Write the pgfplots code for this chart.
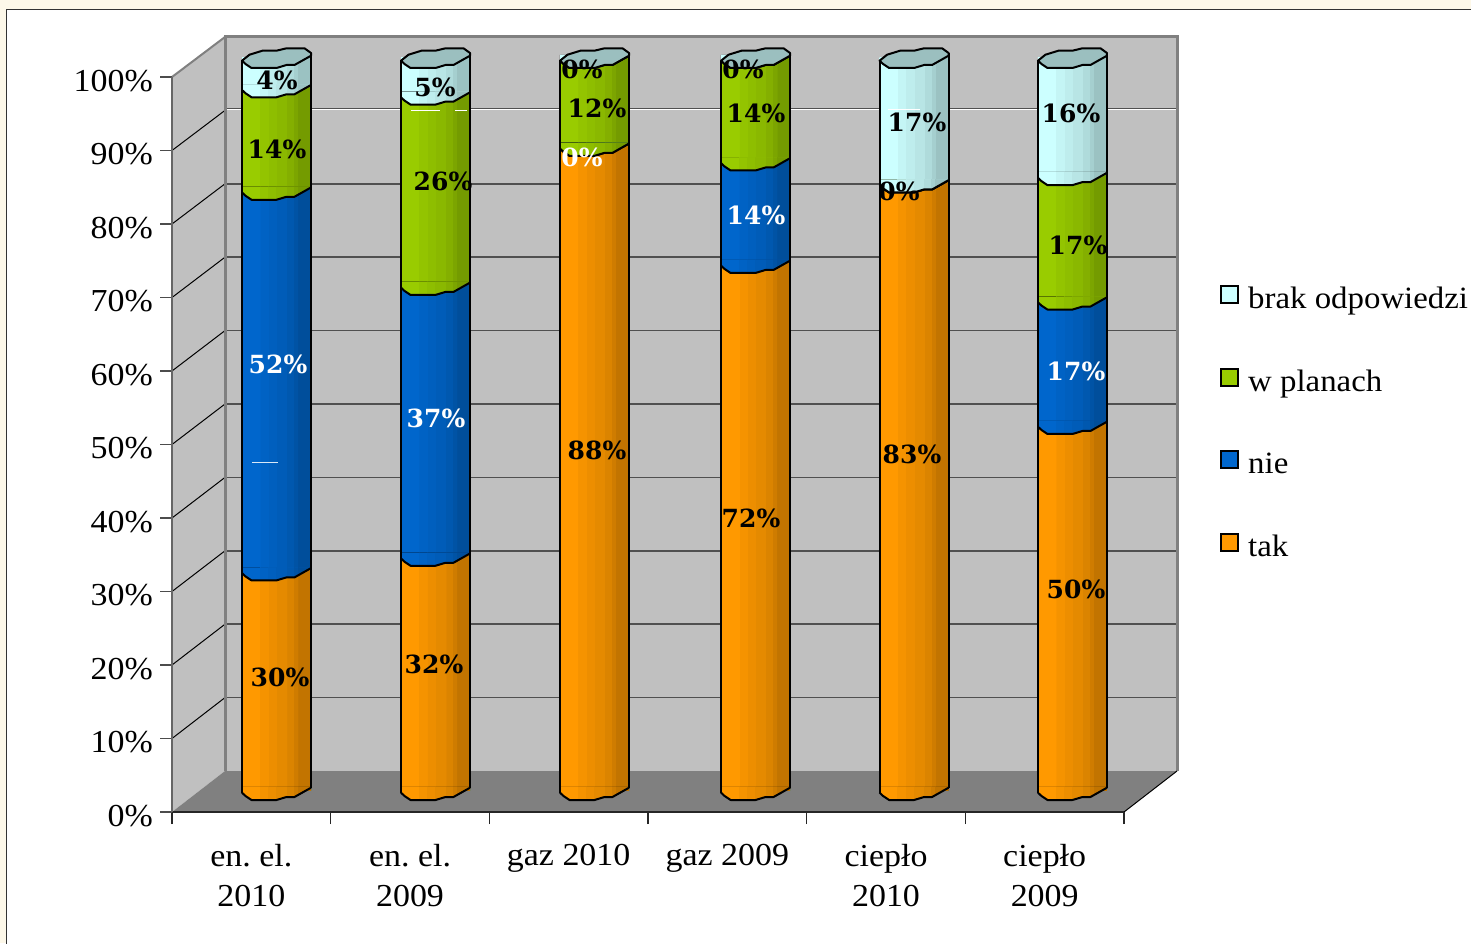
\documentclass[border=0pt]{standalone}
\usepackage{pgfplots}
\usepackage{pgfplotstable}
\usepackage{fontspec}
\pgfplotsset{compat=1.18}
\setmainfont{Liberation Serif}[FakeStretch=1.06]
\newfontfamily\labfont{DejaVu Serif}
\definecolor{cOrange}{HTML}{FF9900}
\definecolor{cBlue}{HTML}{0066CC}
\definecolor{cGreen}{HTML}{99CC00}
\definecolor{cCyan}{HTML}{CCFFFF}
\definecolor{cCap}{HTML}{9BBFBF}
\definecolor{cCream}{HTML}{FDF8E9}
\definecolor{cWall}{HTML}{C0C0C0}
\definecolor{cFloor}{HTML}{808080}
\definecolor{cGrid}{HTML}{505050}
\newcommand\bandshade[2]{%
  \pgfdeclarehorizontalshading{#1}{100bp}{%
    color(0bp)=(#2); color(38bp)=(#2);
    color(38.01bp)=(#2!96!black); color(44bp)=(#2!96!black);
    color(44.01bp)=(#2!93!black); color(50bp)=(#2!93!black);
    color(50.01bp)=(#2!90!black); color(57.5bp)=(#2!90!black);
    color(57.51bp)=(#2!86!black); color(62.5bp)=(#2!86!black);
    color(62.51bp)=(#2!81!black); color(65.5bp)=(#2!81!black);
    color(65.51bp)=(#2!76!black); color(100bp)=(#2!76!black)}}
\bandshade{bandO}{cOrange}
\bandshade{bandB}{cBlue}
\bandshade{bandG}{cGreen}
\bandshade{bandC}{cCyan}
\def\lowerarc{(-34.5pt,-2.7pt) -- (-31pt,-6pt) -- (-25pt,-10pt) -- (0pt,-10pt) -- (10pt,-7pt) -- (18pt,-7pt) -- (34.5pt,2.3pt)}
\newcommand\arcmark[2]{%
  \pgfdeclareplotmark{#1}{%
    \begin{scope}
    \clip (-34.5pt,3pt) -- \lowerarc -- (34.5pt,3pt) -- cycle;
    \fill[#2]          (-34.5pt,-15pt) rectangle (34.5pt,10pt);
    \fill[#2!96!black] (-16.56pt,-15pt) rectangle (34.5pt,10pt);
    \fill[#2!93!black] (-8.28pt,-15pt) rectangle (34.5pt,10pt);
    \fill[#2!90!black] (0pt,-15pt) rectangle (34.5pt,10pt);
    \fill[#2!86!black] (10.35pt,-15pt) rectangle (34.5pt,10pt);
    \fill[#2!81!black] (17.25pt,-15pt) rectangle (34.5pt,10pt);
    \fill[#2!76!black] (21.39pt,-15pt) rectangle (34.5pt,10pt);
    \end{scope}
    \draw[black,line width=2pt,line join=round] \lowerarc;}}
\arcmark{arcO}{cOrange}
\arcmark{arcB}{cBlue}
\arcmark{arcG}{cGreen}
\arcmark{arcC}{cCyan}
\pgfdeclareplotmark{capm}{%
  \draw[black,line width=2pt,fill=cCap,line join=round]
    (-34.5pt,-2.7pt) -- (-27pt,3.3pt) -- (-14pt,7.3pt) -- (0pt,7.3pt) -- (10pt,9.7pt) -- (28pt,9.7pt) -- (34.5pt,5pt) -- (34.5pt,2.3pt)
    -- (18pt,-7pt) -- (10pt,-7pt) -- (0pt,-10pt) -- (-25pt,-10pt) -- (-31pt,-6pt) -- cycle;
  \draw[black,line width=2pt] (-34.5pt,-2.7pt) -- (-34.5pt,-734.7pt);
  \draw[black,line width=2pt] (34.5pt,5pt) -- (34.5pt,-729.7pt);}
\pgfplotstableread{
x     tak nie plan brak
0     30  52  14   4
1     32  37  26   5
2     88  0   12   0
3.013 72  14  14   0
4.01  83  0   0    17
5.006 50  17  17   16
}\shares
\newcommand\barseries[2]{%
  \pgfplotsinvokeforeach{0,1,2,3,4,5}{%
    \addplot[ybar,bar width=69pt,bar shift=0pt,draw=none,shading=#1,forget plot,
      x filter/.code={\ifnum\coordindex=##1\relax\else\def\pgfmathresult{}\fi}]
      table[x=x,y expr={#2}]{\shares};
  }}
\newcommand\markseries[2]{%
  \addplot[only marks,mark=#1,forget plot] table[x=x,y expr={#2}]{\shares};}
\newcommand\swatch[1]{\addlegendimage{legend image code/.code={\draw[fill=#1,line width=2pt] (0pt,-1.5pt) rectangle (17pt,15.5pt);}}}
\newcommand\lab[4]{\node[text=#4,inner sep=0pt,font=\labfont\bfseries\fontsize{25}{25}\selectfont] at (#1,942-#2) {#3};}
\begin{document}
\frenchspacing
\begin{tikzpicture}[x=1pt,y=1pt]
\useasboundingbox (0,0) rectangle (1471,943);
\clip (0,0) rectangle (1471,943);
\fill[cCream] (0,0) rectangle (1471,943);
\fill[white,draw=black!80,line width=1.5pt] (6.5,-5) rectangle (1480,933.5);
% walls
\fill[cWall] (225,906) rectangle (1177,172);
\fill[cWall] (172,866) -- (225,906) -- (225,172) -- (172,131) -- cycle;
\fill[cFloor] (172,131) -- (1124,131) -- (1177,172) -- (225,172) -- cycle;
\foreach \k in {1,...,8} {
  \draw[cGrid,line width=1.5pt] (225,172+73.4*\k) -- (1177,172+73.4*\k);
}
\draw[cGrid,line width=1pt] (225,834) -- (1177,834);
\draw[white,line width=1pt] (225,833) -- (1177,833);
\foreach \k in {1,...,9} {
  \draw[black,line width=1pt] (172,131+73.5*\k) -- (225,172+73.4*\k);
}
\draw[cFloor,line width=3pt] (225,172) -- (225,906) -- (1177,906) -- (1177,172);
\draw[cFloor,line width=2pt] (172,866) -- (225,906);
\draw[black,line width=1pt] (1124,131) -- (1177,172);
\begin{axis}[
  at={(172pt,131pt)}, anchor=south west, scale only axis,
  width=952pt, height=735pt,
  xmin=-0.5, xmax=5.5, ymin=0, ymax=100,
  axis lines=left, axis line style={-},
  x axis line style={black!85,line width=1.5pt},
  y axis line style={black!60,line width=2pt},
  tick align=outside, major tick length=12pt, minor tick length=12pt,
  xtick={0,...,5}, minor xtick={-0.5,0.5,1.5,2.5,3.5,4.5,5.5},
  major x tick style={draw=none},
  minor x tick style={black!85,line width=1.2pt},
  xticklabels={{en. el.\\2010},{en. el.\\2009},{gaz 2010},{gaz 2009},{ciepło\\2010},{ciepło\\2009}},
  ytick={0,10,...,100},
  yticklabels={0\%,10\%,20\%,30\%,40\%,50\%,60\%,70\%,80\%,90\%,100\%},
  y tick style={black!70,line width=1.5pt},
  xticklabel style={align=center,inner sep=0pt,font=\fontsize{32}{40}\selectfont,yshift=-20pt},
  yticklabel style={inner sep=0pt,font=\fontsize{32}{40}\selectfont,xshift=-7pt,yshift=-4pt},
  tick label style={black},
  clip=false,
]
\end{axis}
\begin{axis}[
  at={(197pt,153pt)}, anchor=south west, scale only axis,
  width=954pt, height=732pt,
  xmin=-0.5, xmax=5.5, ymin=0, ymax=100,
  hide axis, clip=false,
  legend cell align=left,
  legend style={at={(1.0723,0.6895)},anchor=north west,draw=none,fill=none,inner sep=0pt,
    row sep=50.9pt,column sep=9pt,font=\fontsize{31}{36}\selectfont,
    nodes={text height=22pt,text depth=8pt,inner sep=0pt}},
]
\swatch{cCyan}
\swatch{cGreen}
\swatch{cBlue}
\swatch{cOrange}
\legend{brak odpowiedzi,w planach,nie,tak}
% bars, each from 0 to the top of its segment, tallest first
\barseries{bandC}{\thisrow{tak}+\thisrow{nie}+\thisrow{plan}+\thisrow{brak}}
\barseries{bandG}{\thisrow{tak}+\thisrow{nie}+\thisrow{plan}}
\barseries{bandB}{\thisrow{tak}+\thisrow{nie}}
\barseries{bandO}{\thisrow{tak}}
% front arcs at the lower edge of each segment
\markseries{arcO}{0*\thisrow{tak}}
\markseries{arcB}{\thisrow{tak}}
\markseries{arcG}{\thisrow{tak}+\thisrow{nie}}
\markseries{arcC}{\thisrow{tak}+\thisrow{nie}+\thisrow{plan}}
\markseries{capm}{\thisrow{tak}+\thisrow{nie}+\thisrow{plan}+\thisrow{brak}}
\end{axis}
% small light streaks seen on the bars
\draw[white,line width=1pt] (411,943-111) -- (440,943-111);
\draw[white,line width=1pt] (455,943-111) -- (467,943-111);
\draw[white,line width=1pt] (888,943-110) -- (920,943-110);
\draw[white!85!cBlue,line width=1pt] (252,943-463) -- (278,943-463);
\lab{280}{676}{30\%}{black}
\lab{278}{363}{52\%}{white}
\lab{277}{148}{14\%}{black}
\lab{277}{79}{4\%}{black}
\lab{434}{663}{32\%}{black}
\lab{436}{417}{37\%}{white}
\lab{443}{180}{26\%}{black}
\lab{435}{86}{5\%}{black}
\lab{597}{449}{88\%}{black}
\lab{582}{156}{0\%}{white}
\lab{597}{107}{12\%}{black}
\lab{582}{68}{0\%}{black}
\lab{751}{517}{72\%}{black}
\lab{756}{214}{14\%}{white}
\lab{756}{112}{14\%}{black}
\lab{743}{68}{0\%}{black}
\lab{912}{453}{83\%}{black}
\lab{899}{190}{0\%}{black}
\lab{917}{121}{17\%}{black}
\lab{1076}{588}{50\%}{black}
\lab{1076}{370}{17\%}{white}
\lab{1078}{244}{17\%}{black}
\lab{1071}{112}{16\%}{black}
\end{tikzpicture}
\end{document}
